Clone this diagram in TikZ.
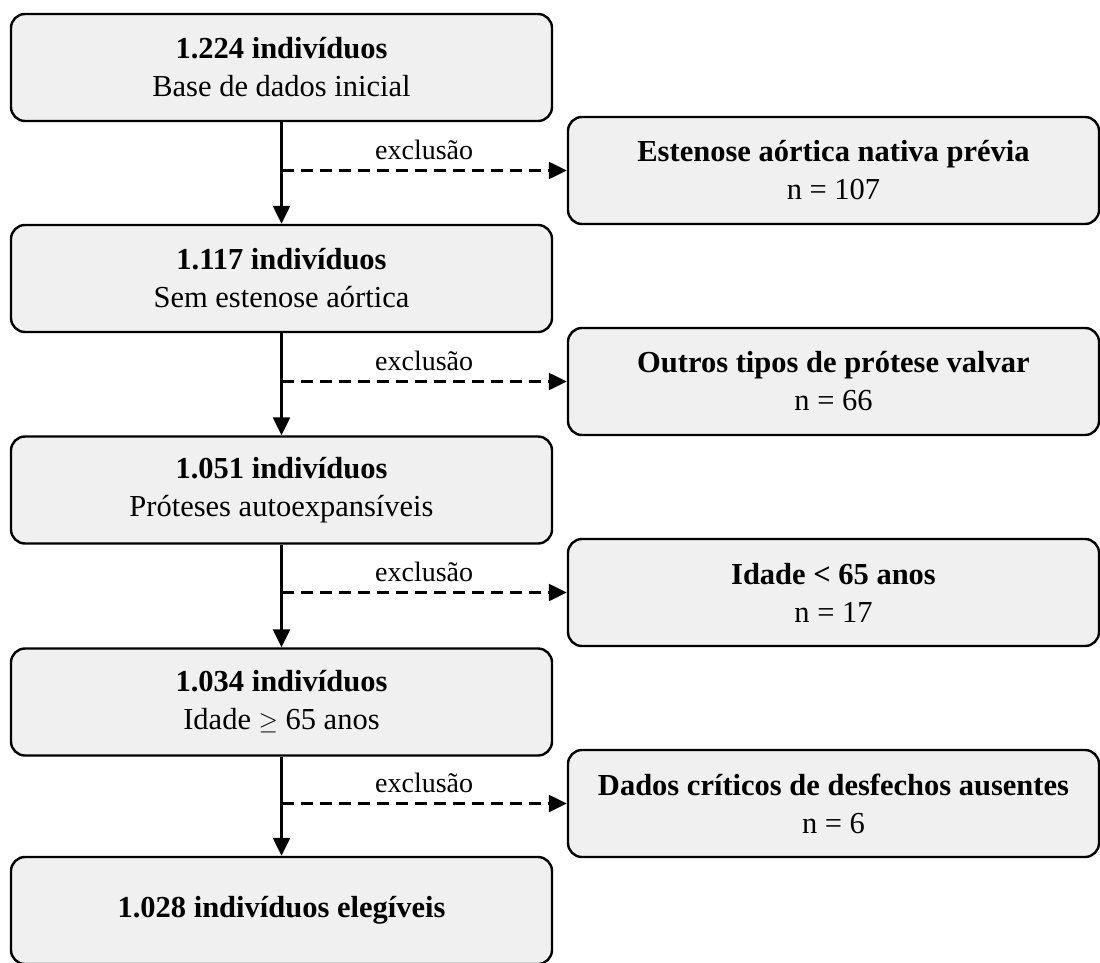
\documentclass[tikz,border=0pt]{standalone}
\usepackage{fontspec}
\setmainfont{Liberation Serif}
\usetikzlibrary{arrows.meta}
\definecolor{boxgray}{HTML}{F0F0F0}
\begin{document}
\begin{tikzpicture}[x=1pt, y=-1pt,
	etapa/.style={draw, line width=2.4pt, fill=boxgray, rounded corners=14pt,
		minimum width=541pt, minimum height=107pt, align=center,
		font=\fontsize{30.5}{38}\selectfont, inner sep=0pt},
	exclui/.style={etapa, minimum width=531pt},
	fluxo/.style={line width=2.4pt, -{Triangle[length=18pt,width=17pt]}},
	corte/.style={fluxo, dash pattern=on 12pt off 7pt}]
	\useasboundingbox (0,0) rectangle (1100,963);

	% Etapas
	\node[etapa] (b1) at (281.5,67.5) {\textbf{1.224 indivíduos}\\Base de dados inicial};
	\node[etapa] (b2) at (281.5,278.5) {\textbf{1.117 indivíduos}\\Sem estenose aórtica};
	\node[etapa] (b3) at (281.5,490) {\textbf{1.051 indivíduos}\\Próteses autoexpansíveis};
	\node[etapa] (b4) at (281.5,702) {\textbf{1.034 indivíduos}\\Idade $\geq$ 65 anos};
	\node[etapa] (b5) at (281.5,910.5) {\textbf{1.028 indivíduos elegíveis}};

	% Exclusoes
	\node[exclui] (e1) at (833.5,170.5) {\textbf{Estenose aórtica nativa prévia}\\n = 107};
	\node[exclui] (e2) at (833.5,381.5) {\textbf{Outros tipos de prótese valvar}\\n = 66};
	\node[exclui] (e3) at (833.5,592.5) {\textbf{Idade < 65 anos}\\n = 17};
	\node[exclui] (e4) at (833.5,803.5) {\textbf{Dados críticos de desfechos ausentes}\\n = 6};

	% Setas
	\foreach \a/\b/\e in {b1/b2/e1, b2/b3/e2, b3/b4/e3, b4/b5/e4} {
		\draw[fluxo] (\a.south) -- (\b.north);
		\draw[corte] (\a.south |- \e.west) -- node[above=6pt, font=\fontsize{28}{32}\selectfont] {exclusão} (\e.west);
	}
\end{tikzpicture}
\end{document}
